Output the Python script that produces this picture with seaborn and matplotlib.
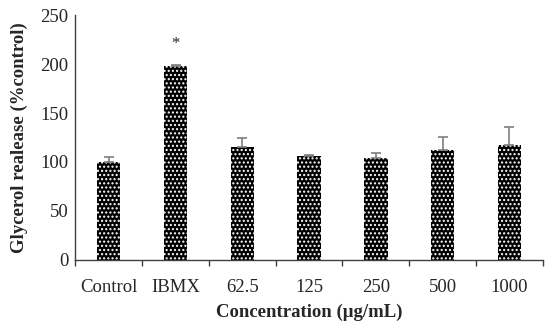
import matplotlib
matplotlib.use("Agg")
import matplotlib.pyplot as plt
import pandas as pd
import seaborn as sns

categories = ["Control", "IBMX", "62.5", "125", "250", "500", "1000"]
means = [100, 198, 115, 106, 104, 112, 117]
errors = [5, 1.5, 10, 1, 5, 14, 19]
star_label = "*"
star_index = 1
star_y = 221

df = pd.DataFrame({"group": categories, "value": means})

sns.set_theme(style="white")
plt.rcParams["font.family"] = ["Liberation Serif", "DejaVu Serif"]

fig = plt.figure(figsize=(5.5, 3.29), dpi=100)
ax = fig.add_axes([0.137, 0.21, 0.85, 0.744])

sns.barplot(
    data=df,
    x="group",
    y="value",
    order=categories,
    color="black",
    width=0.35,
    saturation=1,
    edgecolor="white",
    linewidth=0,
    hatch="....",
    ax=ax,
)

xs = list(range(len(categories)))
ax.errorbar(
    xs,
    means,
    yerr=[[0] * len(errors), errors],
    fmt="none",
    ecolor="#7f7f7f",
    elinewidth=1.2,
    capsize=3.5,
    capthick=1.2,
)
ax.text(star_index, star_y, star_label, ha="center", va="center", fontsize=12)

ax.set_ylim(0, 250)
ax.set_xlim(-0.5, len(categories) - 0.5)
ax.set_yticks(range(0, 251, 50))
ax.tick_params(axis="y", labelsize=13.5, length=0, pad=5)
ax.tick_params(axis="x", which="major", labelsize=13.5, length=0, pad=14)
ax.set_xticks([i - 0.5 for i in range(len(categories) + 1)], minor=True)
ax.tick_params(axis="x", which="minor", bottom=True, length=4, width=1,
               direction="out", color="#404040")

ax.set_xlabel("Concentration (μg/mL)", fontsize=13.5, fontweight="bold", labelpad=5)
ax.set_ylabel("Glycerol realease (%control)", fontsize=13.5, fontweight="bold", labelpad=9)

for side in ["top", "right"]:
    ax.spines[side].set_visible(False)
for side in ["left", "bottom"]:
    ax.spines[side].set_color("#404040")
    ax.spines[side].set_linewidth(1)

fig.savefig("out.png", dpi=100)
